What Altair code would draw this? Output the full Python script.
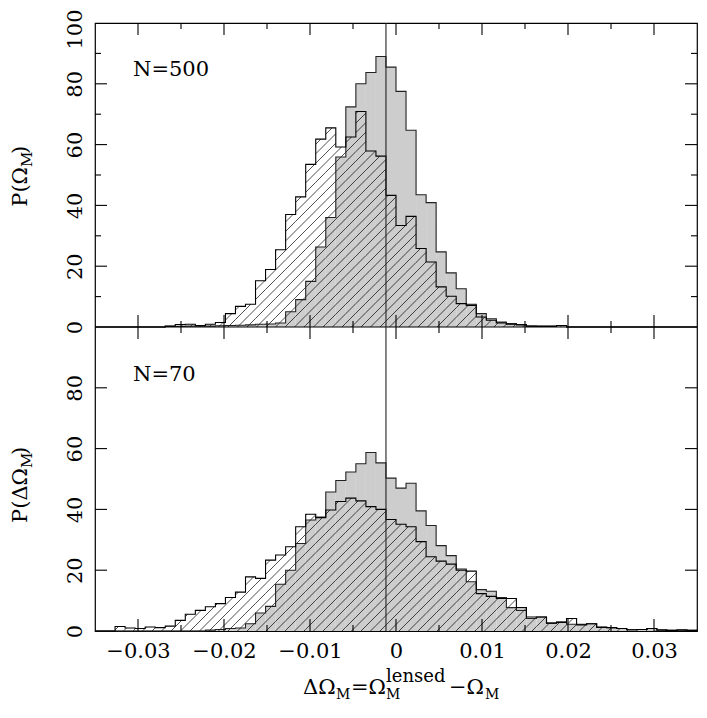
import math
import altair as alt
import pandas as pd

# ---------------- data ----------------
X_MIN, X_MAX = -0.035, 0.035
NBINS = 60
BW = (X_MAX - X_MIN) / NBINS
LINE_X = X_MIN + 29 * BW  # vertical reference line (sits on a bin edge)

# top panel (N=500): gray filled histogram and hatched histogram
g1 = [0, 0, 0, 0, 0, 0, 0,
      0.2, 0.2, 0.3, 0.3, 0.3, 0.4, 0.5, 0.6, 0.7, 0.9, 1.0, 1.3, 5.0, 9.0,
      15.0, 26.3, 36.0, 55.9, 72.4, 80.0, 83.7, 89.0, 85.5, 77.5, 64.7, 43.5,
      40.9, 24.7, 17.8, 12.6, 7.5, 4.4, 2.7, 1.6, 1.1, 0.8, 0.3, 0.3, 0.3, 0.5,
      0, 0, 0, 0, 0, 0, 0, 0, 0, 0, 0, 0, 0]
h1 = [0, 0, 0, 0, 0, 0, 0,
      0.3, 0.8, 0.9, 0.5, 0.9, 1.5, 4.4, 6.8, 7.5, 15.2, 18.9, 25.4, 37.0, 42.8,
      53.5, 61.8, 65.5, 59.2, 62.5, 70.9, 57.9, 56.2, 43.3, 33.4, 36.4, 25.8,
      21.4, 13.2, 10.1, 7.7, 7.1, 3.3, 2.2, 1.3, 0.9, 0.7, 0.3, 0.2, 0.2, 0.5,
      0, 0, 0, 0, 0, 0, 0, 0, 0, 0, 0, 0, 0]
# bottom panel (N=70)
g2 = [0, 0, 0, 0, 0, 0, 0, 0, 0, 0, 0,
      0.3, 0.5, 0.8, 1.0, 2.4, 5.9, 8.1, 15.4, 20.0, 28.8, 36.5, 37.5, 45.7,
      49.5, 52.3, 55.0, 58.7, 55.3, 50.3, 47.0, 48.6, 39.5, 34.7, 28.1, 24.8,
      20.4, 16.2, 13.6, 13.1, 11.0, 7.7, 6.8, 4.1, 4.6, 2.6, 3.0, 2.2, 2.2,
      2.4, 1.3, 1.1, 0.8, 0.4, 0.5, 0.8, 0.4, 0.2, 0.4, 0.2]
h2 = [0, 0, 1.5, 1.0, 0.8, 1.3, 1.1, 1.6, 3.5, 5.5, 6.8, 8.0, 9.0, 11.0, 12.8,
      17.8, 17.3, 23.3, 25.0, 27.7, 34.3, 38.4, 37.3, 39.8, 42.6, 43.7, 42.8,
      40.9, 40.0, 36.7, 35.1, 34.3, 29.4, 24.4, 23.0, 22.0, 20.0, 19.7, 12.3,
      11.4, 10.7, 10.7, 7.7, 4.6, 4.6, 2.6, 2.8, 4.1, 2.0, 2.4, 1.2, 1.1, 0.8,
      0.4, 0.5, 0.8, 0.3, 0.2, 0.3, 0.2]

x_major = [-0.03, -0.02, -0.01, 0.0, 0.01, 0.02, 0.03]
x_minor = [-0.025, -0.015, -0.005, 0.005, 0.015, 0.025]
y_top_major = [20, 40, 60, 80]
y_top_minor = [10, 30, 50, 70, 90]
y_bot_major = [20, 40, 60, 80]
y_label_values = [0, 20, 40, 60, 80, 100, 120, 140, 160, 180, 200]

# ---------------- layout / style ----------------
W, H = 602, 608          # plot area: two stacked panels, 304 px each
FONT = "DejaVu Serif"
GRAY = "#cdcdcd"
HATCH_S = 9.5            # hatch spacing (px)

lo = [X_MIN + i * BW for i in range(NBINS)]
hi = [X_MIN + (i + 1) * BW for i in range(NBINS)]
XS = X_MAX - X_MIN

xs = alt.Scale(domain=[X_MIN, X_MAX], nice=False, zero=False)
ys = alt.Scale(domain=[0, 200], nice=False, zero=False)


def rect_rows(vals, base):
    return [dict(lo=lo[i], hi=hi[i], y0=base, y1=base + v)
            for i, v in enumerate(vals) if v > 0]


def outline_rows(vals, base, name):
    pts = [(lo[0], base)]
    for i, v in enumerate(vals):
        pts.append((lo[i], base + v))
        pts.append((hi[i], base + v))
    pts.append((hi[-1], base))
    return [dict(x=p[0], y=p[1], series=name, ord=k) for k, p in enumerate(pts)]


def hatch_rows(vals, base):
    rows = []
    for i, v in enumerate(vals):
        if v <= 0:
            continue
        X0 = (lo[i] - X_MIN) / XS * W
        X1 = (hi[i] - X_MIN) / XS * W
        Y0 = base / 200 * H
        Y1 = (base + v) / 200 * H
        kmin = math.ceil((X0 - Y1) / HATCH_S)
        kmax = math.floor((X1 - Y0) / HATCH_S)
        for k in range(kmin, kmax + 1):
            c = k * HATCH_S
            xa = max(X0, Y0 + c)
            xb = min(X1, Y1 + c)
            if xb - xa > 0.05:
                rows.append(dict(x=X_MIN + xa / W * XS, x2=X_MIN + xb / W * XS,
                                 y=(xa - c) / H * 200, y2=(xb - c) / H * 200))
    return rows


gray_df = pd.DataFrame(rect_rows(g1, 100) + rect_rows(g2, 0))
hatch_df = pd.DataFrame(hatch_rows(h1, 100) + hatch_rows(h2, 0))
gray_line_df = pd.DataFrame(outline_rows(g1, 100, "g1") + outline_rows(g2, 0, "g2"))
hatch_line_df = pd.DataFrame(outline_rows(h1, 100, "h1") + outline_rows(h2, 0, "h2"))

# tick marks (inward on every side of both panels)
LMAJ, LMIN = 12, 6
ly = lambda px: px * 200 / H
lx = lambda px: px * XS / W
tick_rows = []
for vals, L in ((x_major, LMAJ), (x_minor, LMIN)):
    for v in vals:
        tick_rows.append(dict(x=v, x2=v, y=0, y2=ly(L)))
        tick_rows.append(dict(x=v, x2=v, y=100, y2=100 + ly(L)))
        tick_rows.append(dict(x=v, x2=v, y=100 - ly(L), y2=100))
        tick_rows.append(dict(x=v, x2=v, y=200 - ly(L), y2=200))
for vals, L, base in ((y_top_major, LMAJ, 100), (y_top_minor, LMIN, 100),
                      (y_bot_major, LMAJ, 0)):
    for v in vals:
        tick_rows.append(dict(x=X_MIN, x2=X_MIN + lx(L), y=base + v, y2=base + v))
        tick_rows.append(dict(x=X_MAX - lx(L), x2=X_MAX, y=base + v, y2=base + v))
tick_df = pd.DataFrame(tick_rows)

x_axis = alt.Axis(values=x_major, ticks=False, domain=False, grid=False, title=None,
                  labelExpr="datum.value == 0 ? '0' : replace(format(datum.value, '.2f'), '-', '\u2212')",
                  labelFont=FONT, labelFontSize=21, labelPadding=9, labelColor="black",
                  labelFlush=False, labelOverlap=False)
y_axis = alt.Axis(values=y_label_values, ticks=False, domain=False, grid=False, title=None,
                  labelExpr="datum.value >= 100 ? datum.value - 100 : datum.value",
                  labelAngle=270, labelAlign="center", labelBaseline="bottom",
                  labelFont=FONT, labelFontSize=21, labelPadding=10, labelColor="black",
                  labelOffset={"condition": {"test": "datum.value == 200", "value": 6}, "value": 0},
                  labelFlush=False, labelOverlap=False)


def X(field):
    return alt.X(field, scale=xs, axis=x_axis)


def Y(field):
    return alt.Y(field, scale=ys, axis=y_axis)


gray_rect = alt.Chart(gray_df).mark_rect(color=GRAY, strokeWidth=0).encode(
    x=X("lo:Q"), x2="hi:Q", y=Y("y0:Q"), y2="y1:Q")

hatch = alt.Chart(hatch_df).mark_rule(color="black", strokeWidth=0.7).encode(
    x=X("x:Q"), x2="x2:Q", y=Y("y:Q"), y2="y2:Q")

gray_line = alt.Chart(gray_line_df).mark_line(color="#222222", strokeWidth=1.1).encode(
    x=X("x:Q"), y=Y("y:Q"), detail="series:N", order="ord:Q")

hatch_line = alt.Chart(hatch_line_df).mark_line(color="black", strokeWidth=1.1).encode(
    x=X("x:Q"), y=Y("y:Q"), detail="series:N", order="ord:Q")

sep = alt.Chart(pd.DataFrame({"y": [100]})).mark_rule(color="black", strokeWidth=1.2).encode(
    y=Y("y:Q"))

vline = alt.Chart(pd.DataFrame({"x": [LINE_X]})).mark_rule(color="#222222", strokeWidth=1.1).encode(
    x=X("x:Q"))

ticks = alt.Chart(tick_df).mark_rule(color="black", strokeWidth=1.1).encode(
    x=X("x:Q"), x2="x2:Q", y=Y("y:Q"), y2="y2:Q")


def txt(s, x, y, size=21, align="left", angle=0, baseline="middle"):
    kw = dict(font=FONT, fontSize=size, align=align, baseline=baseline, color="black")
    if angle:
        kw["angle"] = angle
    return alt.Chart(pd.DataFrame({"t": [s]})).mark_text(**kw).encode(
        x=alt.value(x), y=alt.value(y), text="t:N")


texts = [
    txt("N=500", 38, 47, size=21),
    txt("N=70", 38, 352, size=21),
    # y titles  P(Ω_M)  and  P(ΔΩ_M)
    txt("P(\u03a9", -74, 144, align="right", angle=270),
    txt("M", -68, 144, size=15, align="left", angle=270),
    txt(")", -74, 131, align="left", angle=270),
    txt("P(\u0394\u03a9", -74, 445, align="right", angle=270),
    txt("M", -68, 445, size=15, align="left", angle=270),
    txt(")", -74, 432, align="left", angle=270),
    # x title  ΔΩ_M = Ω_M^lensed − Ω_M
    txt("\u0394\u03a9", 208, 665),
    txt("M", 241, 672, size=14),
    txt("=\u03a9", 256, 665),
    txt("M", 291, 672, size=14),
    txt("lensed", 291, 654, size=18),
    txt("\u2212\u03a9", 354, 665),
    txt("M", 390, 672, size=14),
]

chart = alt.layer(gray_rect, hatch, gray_line, hatch_line, sep, vline, ticks, *texts).properties(
    width=W, height=H,
    autosize=alt.AutoSizeParams(type="none"),
    padding={"left": 87, "top": 15, "right": 2, "bottom": 73},
    background="white",
).configure_view(stroke="black", strokeWidth=1.2)

chart.save("out.html", embed_options={"renderer": "svg", "actions": False})
